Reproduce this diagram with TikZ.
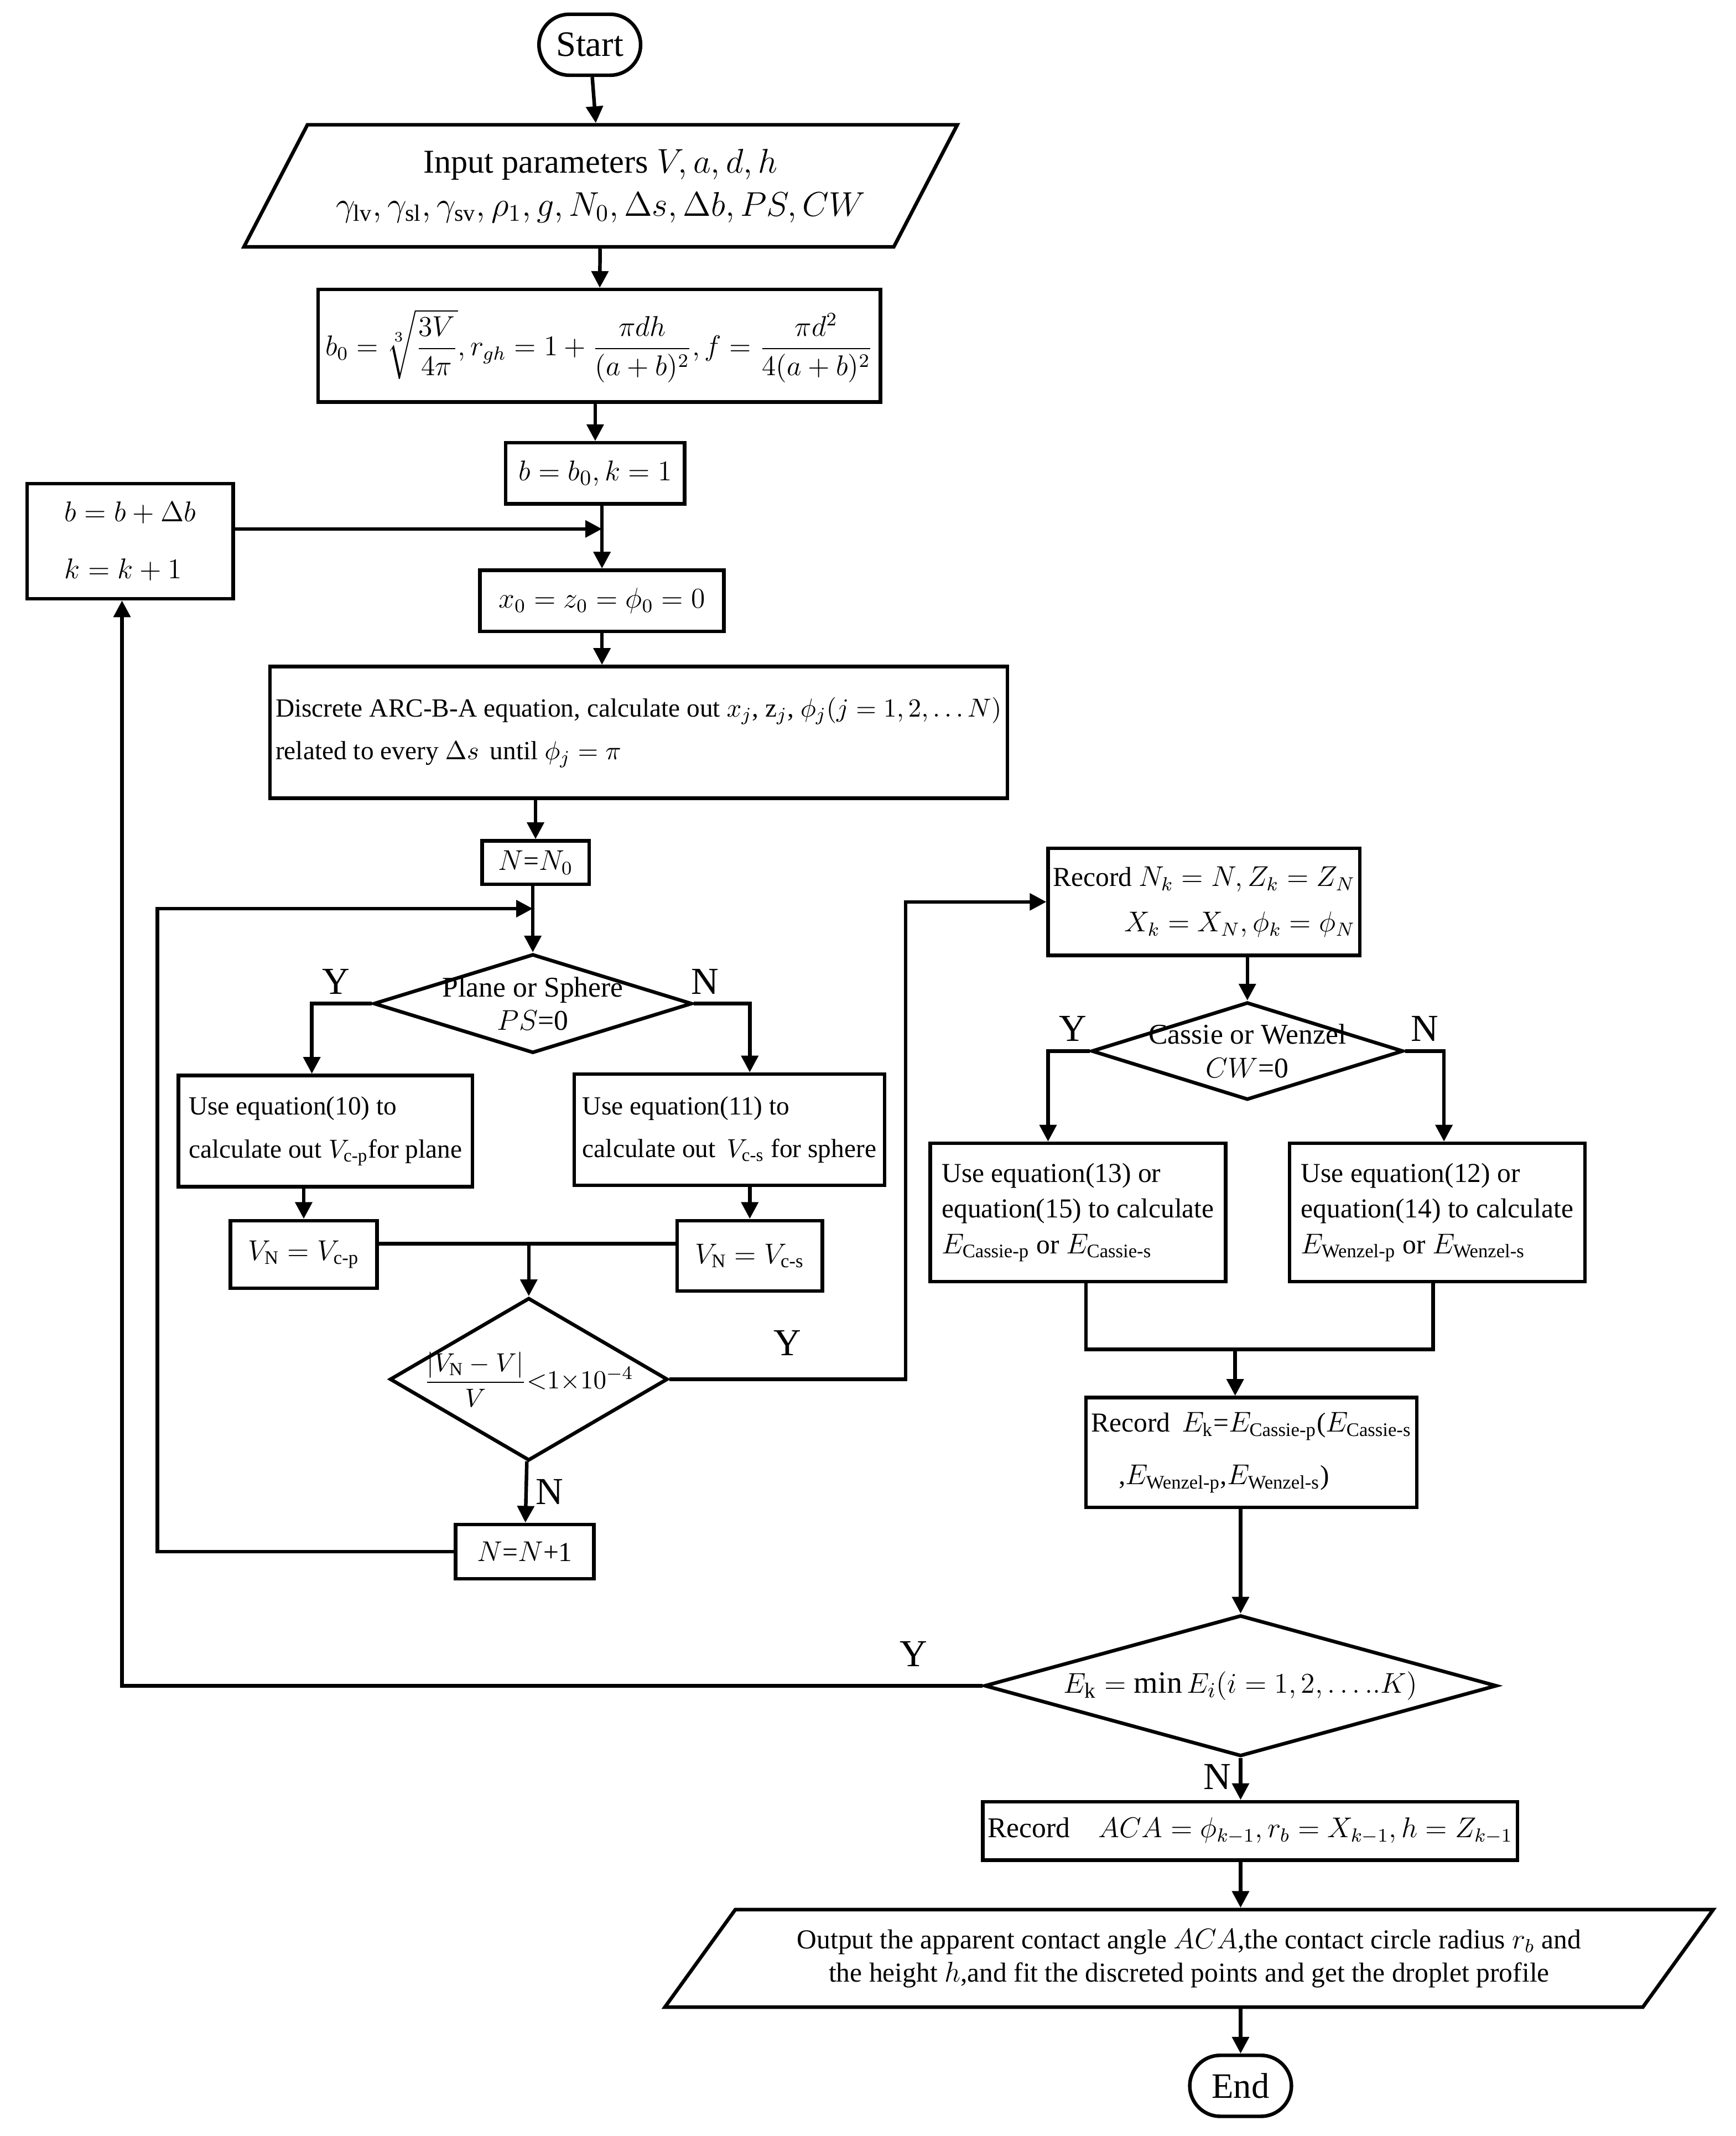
\documentclass[tikz,border=0pt]{standalone}
\usepackage{amsmath, amssymb}
\usepackage{fontspec}
\setmainfont{Liberation Serif}
\usetikzlibrary{arrows.meta, shapes.geometric, calc, positioning}

\begin{document}
\begin{tikzpicture}[x=0.02cm, y=-0.02cm, >={Triangle[length=7pt,width=7pt]},
  line width=1.5pt,
  box/.style={draw, rectangle, inner sep=2pt, font=\fontsize{11.5}{19}\selectfont},
  dia/.style={draw, diamond, inner sep=0pt, label={[font=\fontsize{12}{14}\selectfont, align=center]center:#1}},
  term/.style={draw, rectangle, rounded corners=0.45cm, minimum width=1.5cm, minimum height=0.9cm, font=\fontsize{15}{18}\selectfont},
  para/.style={draw, trapezium, trapezium stretches=true, inner sep=0pt},
  lbl/.style={font=\fontsize{16}{18}\selectfont}]

\useasboundingbox (0,0) rectangle (1280,1575);

\node[term] (start) at (435,33) {Start};
\node[para, trapezium left angle=52, trapezium right angle=128, minimum width=10.54cm, minimum height=1.8cm,
  font=\fontsize{14}{18}\selectfont, align=center] (inp) at (443,137)
  {Input parameters $V,a,d,h$\\ $\gamma_{\mathrm{lv}},\gamma_{\mathrm{sl}},\gamma_{\mathrm{sv}},\rho_1,g,N_0,\Delta s,\Delta b,PS,CW$};
\node[box, minimum width=8.3cm, minimum height=1.66cm, font=\fontsize{12}{14}\selectfont] (bzero) at (442,255)
  {$b_0=\sqrt[3]{\dfrac{3V}{4\pi}},r_{gh}=1+\dfrac{\pi dh}{(a+b)^2},f=\dfrac{\pi d^2}{4(a+b)^2}$};
\node[box, minimum width=2.64cm, minimum height=0.9cm, font=\fontsize{13}{16}\selectfont] (binit) at (439,349) {$b=b_0,k=1$};
\node[box, minimum width=3.04cm, minimum height=1.7cm, align=left, font=\fontsize{13}{24}\selectfont] (bstep) at (96,399)
  {$b=b+\Delta b$\\ $k=k+1$};
\node[box, minimum width=3.6cm, minimum height=0.9cm, font=\fontsize{12}{14}\selectfont] (xzero) at (444,443) {$x_0=z_0=\phi_0=0$};
\node[box, minimum width=10.88cm, minimum height=1.94cm, align=left, font=\fontsize{11}{18}\selectfont] (disc) at (471,540)
  {Discrete ARC-B-A equation, calculate out $x_j$, z$_j$, $\phi_j(j=1,2,\ldots N)$\\ related to every $\Delta s$\, until $\phi_j=\pi$};
\node[box, minimum width=1.58cm, minimum height=0.64cm] (nzero) at (395,636) {$N$=$N_0$};
\node[dia={Plane or Sphere\\ $PS$=0}, minimum width=4.7cm, minimum height=1.46cm] (ps) at (393,740) {};
\node[box, minimum width=4.34cm, minimum height=1.64cm, align=left, font=\fontsize{11}{18}\selectfont] (eqten) at (240,834)
  {Use equation(10) to\\ calculate out $V_{\text{c-p}}$for plane};
\node[box, minimum width=4.58cm, minimum height=1.64cm, align=left, font=\fontsize{11}{18}\selectfont] (eqeleven) at (538,833)
  {Use equation(11) to\\ calculate out\, $V_{\text{c-s}}$ for sphere};
\node[box, minimum width=2.16cm, minimum height=1cm] (vnp) at (224,925) {$V_{\mathrm{N}}=V_{\text{c-p}}$};
\node[box, minimum width=2.14cm, minimum height=1.04cm] (vns) at (553,926) {$V_{\mathrm{N}}=V_{\text{c-s}}$};
\node[dia={\fontsize{11}{13}\selectfont$\dfrac{|V_{\mathrm{N}}-V|}{V}{<}1{\times}10^{-4}$}, minimum width=4.1cm, minimum height=2.4cm] (conv) at (390,1017) {};
\node[box, minimum width=2.04cm, minimum height=0.8cm] (nnext) at (387,1144) {$N$=$N$+1};
\node[box, minimum width=4.42cm, minimum height=1.58cm, align=right] (recn) at (888,665)
  {Record $N_k=N,Z_k=Z_N$\\ $X_k=X_N,\phi_k=\phi_N$};
\node[dia={Cassie or Wenzel\\ $CW$=0}, minimum width=4.6cm, minimum height=1.44cm] (cw) at (920,775) {};
\node[box, minimum width=4.36cm, minimum height=2.04cm, align=left, font=\fontsize{11.5}{15}\selectfont] (eqthirteen) at (795,894)
  {Use equation(13) or\\ equation(15) to calculate\\ $E_{\text{Cassie-p}}$ or $E_{\text{Cassie-s}}$};
\node[box, minimum width=4.36cm, minimum height=2.04cm, align=left, font=\fontsize{11.5}{15}\selectfont] (eqtwelve) at (1060,894)
  {Use equation(12) or\\ equation(14) to calculate\\ $E_{\text{Wenzel-p}}$ or $E_{\text{Wenzel-s}}$};
\node[box, minimum width=4.88cm, minimum height=1.62cm, align=left, font=\fontsize{11.5}{22}\selectfont] (rece) at (923,1071)
  {Record\, $E_{\mathrm{k}}$=$E_{\text{Cassie-p}}$($E_{\text{Cassie-s}}$\\ \quad,$E_{\text{Wenzel-p}}$,$E_{\text{Wenzel-s}}$)};
\node[dia={\fontsize{13}{16}\selectfont$E_{\mathrm{k}}=\min E_i(i=1,2,\ldots..K)$}, minimum width=7.56cm, minimum height=2.08cm] (emin) at (915,1243) {};
\node[box, minimum width=7.88cm, minimum height=0.86cm, font=\fontsize{12}{15}\selectfont] (aca) at (922,1350)
  {Record\quad $ACA=\phi_{k-1},r_b=X_{k-1},h=Z_{k-1}$};
\node[para, trapezium left angle=44, trapezium right angle=136, minimum width=15.5cm, minimum height=1.44cm,
  font=\fontsize{11.5}{14}\selectfont, align=center] (outp) at (877,1444)
  {Output the apparent contact angle $ACA$,the contact circle radius $r_b$ and\\ the height $h$,and fit the discreted points and get the droplet profile};
\node[term] (stop) at (915,1538) {End};

% junctions
\coordinate (jb) at (444,390);
\coordinate (jn) at (393,670);
\coordinate (jv) at (390,917);
\coordinate (je) at (911,995);

% arrows
\draw[->] (start) -- (inp);
\draw[->] (inp) -- (bzero);
\draw[->] (bzero.south -| binit) -- (binit);
\draw[->] (binit.south -| xzero) -- (xzero);
\draw[->] (bstep.east |- jb) -- (jb);
\draw[->] (xzero.south) -- (disc.north -| xzero);
\draw[->] (disc.south -| nzero) -- (nzero);
\draw[->] (nzero.south -| ps) -- (ps);
\draw[->] (ps.west) -| node[pos=0.3, above, lbl] {Y} (eqten.north -| 230,0);
\draw[->] (ps.east) -| node[pos=0.1, above, lbl] {N} (eqeleven.north -| 553,0);
\draw[->] (eqten.south -| vnp) -- (vnp);
\draw[->] (eqeleven.south -| vns) -- (vns);
\draw (vnp.east |- jv) -- (vns.west |- jv);
\draw[->] (jv) -- (conv);
\draw[->] (conv) -- node[right, lbl] {N} (nnext);
\draw[->] (nnext.west) -| (116,670) -- (jn);
\draw[->] (conv.east) -- node[above=6pt, lbl] {Y} (668,1017) |- (recn.west);
\draw[->] (recn.south -| cw) -- (cw);
\draw[->] (cw.west) -| node[pos=0.2, above, lbl] {Y} (eqthirteen.north -| 773,0);
\draw[->] (cw.east) -| node[pos=0.25, above, lbl] {N} (eqtwelve.north -| 1065,0);
\draw (eqthirteen.south -| 801,0) |- (je) -| (eqtwelve.south -| 1057,0);
\draw[->] (je) -- (rece.north -| je);
\draw[->] (rece.south -| emin) -- (emin);
\draw[->] (emin.west) -- node[above=4pt, pos=0.08, lbl] {Y} (90,1243) -- (bstep.south -| 90,0);
\draw[->] (emin) -- node[pos=0.45, left, lbl] {N} (aca.north -| emin);
\draw[->] (aca.south -| emin) -- (outp.north -| emin);
\draw[->] (outp.south -| emin) -- (stop);

\end{tikzpicture}
\end{document}
